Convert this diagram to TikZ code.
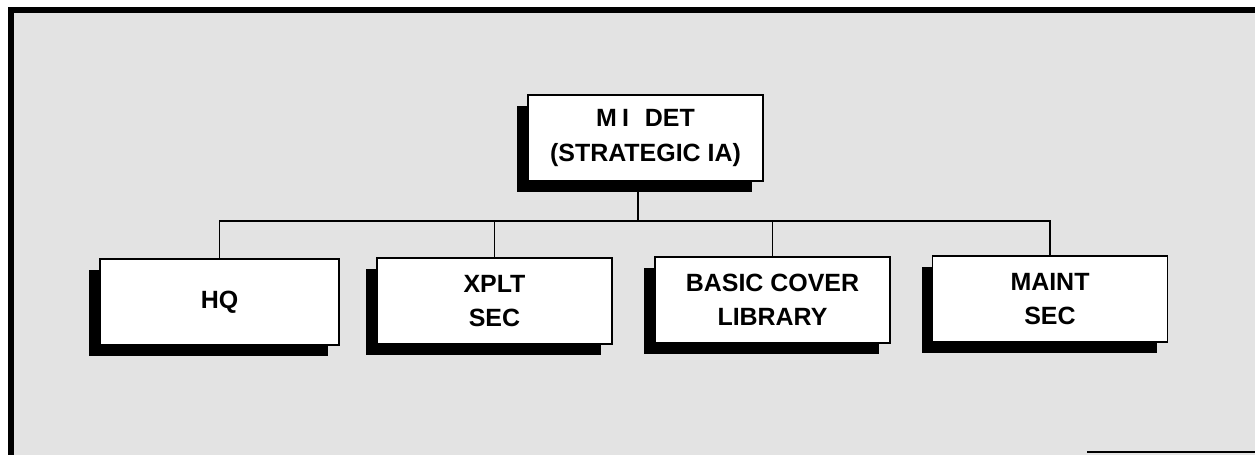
\documentclass[tikz,border=0pt]{standalone}
\usepackage{fontspec}
\setmainfont{Liberation Sans}
\usetikzlibrary{shadows}

\begin{document}
\begin{tikzpicture}
  [unit/.style={draw=black,line width=1pt,fill=white,minimum width=4.7cm,
  minimum height=1.72cm,align=center,inner sep=2pt,
  font=\fontsize{14.2}{19.5}\selectfont\bfseries,
  drop shadow={shadow xshift=-0.22cm,shadow yshift=-0.22cm,fill=black,opacity=1}},
  link/.style={line width=0.6pt}]
  \useasboundingbox (0,0) rectangle (25.1,9.1);
  \fill[black!11] (0.22,0) rectangle (25.1,8.9);
  \draw[line width=3.4pt] (0.22,0) -- (0.22,8.9) -- (25.1,8.9);
  \draw[line width=1pt] (21.74,0.06) -- (25.1,0.06);

  \node[unit] (det) at (12.91,6.34) {M\kern3pt I\kern9pt DET\\(STRATEGIC IA)};
  \node[unit,minimum width=4.78cm] (hq) at (4.39,3.06) {HQ};
  \node[unit] (xplt) at (9.89,3.08) {XPLT\\SEC};
  \node[unit] (cover) at (15.45,3.10) {BASIC COVER\\LIBRARY};
  \node[unit] (maint) at (21.00,3.12) {MAINT\\SEC};
  \coordinate (bus) at (12.76,4.68);

  \draw[link] (det.south -| bus) -- (bus);
  \draw[link] (hq.north) |- (bus) -| (maint.north);
  \draw[link] (xplt.north) -- (xplt.north |- bus);
  \draw[link] (cover.north) -- (cover.north |- bus);

\end{tikzpicture}
\end{document}
